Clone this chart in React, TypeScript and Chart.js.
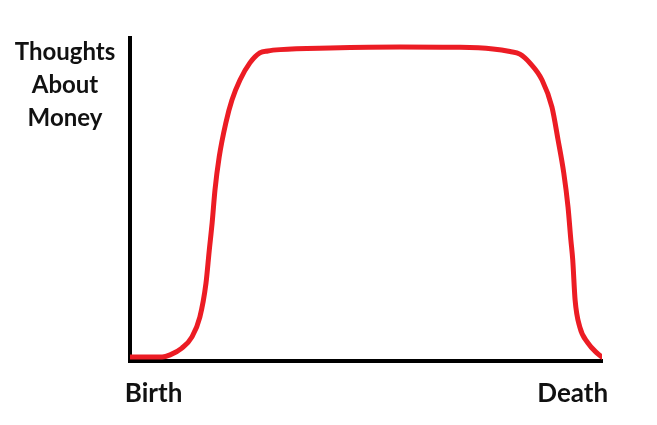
import React, { useEffect, useRef } from "react";
import { Chart, registerables } from "chart.js";

Chart.register(...registerables);

// Life stage (0 = birth, 100 = death)
const lifeStage = [
  0, 4.2, 6.8, 8.5, 11.0, 13.1, 14.8, 16.1, 16.8, 17.4, 18.0, 18.9, 20.3, 21.6, 23.3, 25.4, 27.5,
  29.2, 31.8, 42.4, 57.2, 69.9, 76.9, 80.5, 82.6, 84.7, 87.3, 89.4, 90.7, 91.9, 92.8, 93.4, 93.8,
  94.3, 95.3, 97.0, 98.9, 100,
];
// Thoughts about money (relative, 0-100)
const thoughts = [
  1.2, 1.2, 1.2, 1.9, 4.0, 7.4, 13.6, 24.1, 34.4, 42.7, 52.9, 63.2, 73.7, 80.8, 87.0, 92.3, 95.4,
  96.0, 96.4, 96.9, 97.2, 97.1, 96.6, 95.8, 95.0, 92.3, 87.0, 78.6, 68.4, 58.2, 47.7, 37.5, 31.3,
  18.9, 10.5, 5.6, 2.5, 1.2,
];
const yTitleLines = ["Thoughts", "About", "Money"];
const xTickLabels = ["Birth", "Death"];
// tick anchor positions (labels hang slightly past the axis ends)
const xTickValues = [-1.1, 101.3];

const FONT = "Lato, 'Open Sans', sans-serif";

export default function App() {
  const ref = useRef<HTMLCanvasElement | null>(null);

  useEffect(() => {
    document.body.style.margin = "0";
    const canvas = ref.current;
    if (!canvas) return;

    const yTitlePlugin = {
      id: "yTitle",
      afterDraw(chart: any) {
        const ctx = chart.ctx;
        ctx.save();
        ctx.fillStyle = "#111";
        ctx.font = `bold 24px ${FONT}`;
        ctx.textAlign = "center";
        ctx.textBaseline = "alphabetic";
        const baselines = [60, 93, 126];
        yTitleLines.forEach((t, i) => ctx.fillText(t, 65, baselines[i]));
        ctx.restore();
      },
    };

    const chart = new Chart(canvas, {
      type: "line",
      data: {
        datasets: [
          {
            data: lifeStage.map((x, i) => ({ x, y: thoughts[i] })),
            borderColor: "#ec1c24",
            borderWidth: 5,
            pointRadius: 0,
            fill: false,
            cubicInterpolationMode: "monotone",
            borderCapStyle: "round",
            borderJoinStyle: "round",
          } as any,
        ],
      },
      options: {
        responsive: false,
        animation: false,
        layout: { padding: { top: 38, right: 55, left: 0, bottom: 0 } },
        plugins: { legend: { display: false }, tooltip: { enabled: false } },
        scales: {
          x: {
            type: "linear",
            min: 0,
            max: 100,
            grid: { display: false, drawTicks: false },
            border: { display: true, color: "#000", width: 4 },
            afterBuildTicks: (scale: any) => {
              scale.ticks = xTickValues.map((value) => ({ value }));
            },
            ticks: {
              align: "inner",
              padding: 17,
              color: "#111",
              font: { family: FONT, size: 26, weight: "bold" },
              callback: (v: any, i: number) => xTickLabels[i] ?? "",
            },
            afterFit: (scale: any) => {
              scale.height = 64;
            },
          },
          y: {
            min: 0,
            max: 100,
            grid: { display: false, drawTicks: false },
            border: { display: true, color: "#000", width: 4 },
            ticks: { display: false },
            afterFit: (scale: any) => {
              scale.width = 130;
            },
          },
        },
      },
      plugins: [yTitlePlugin],
    } as any);

    return () => chart.destroy();
  }, []);

  return (
    <div style={{ width: 657, height: 425, background: "#fff" }}>
      <canvas ref={ref} width={657} height={425} />
    </div>
  );
}
